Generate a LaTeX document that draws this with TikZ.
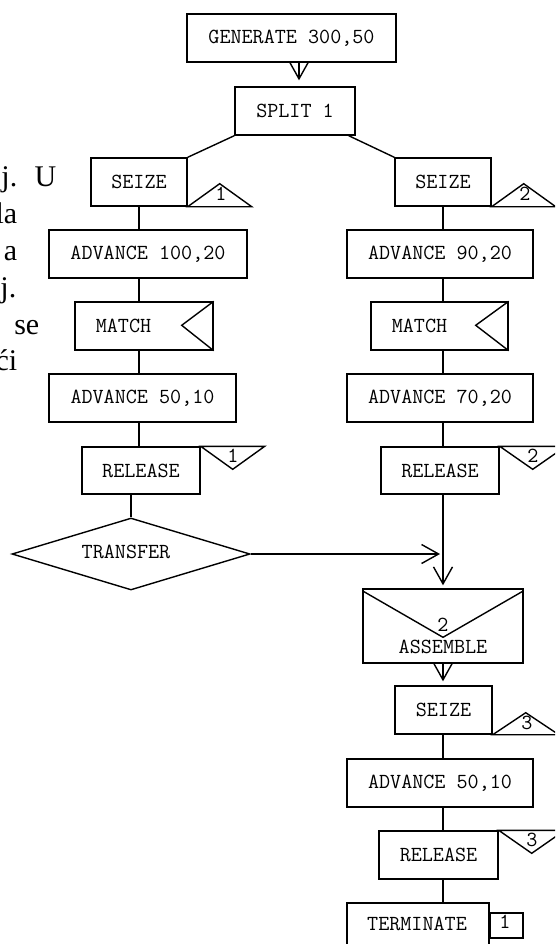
\documentclass[tikz,border=0pt]{standalone}
\usepackage{fontspec}
\setmainfont{Liberation Serif}
\usetikzlibrary{arrows.meta,shapes.geometric,calc}
\begin{document}
\begin{tikzpicture}[x=1pt,y=-1pt,line width=1.4pt,
  blk/.style={draw,rectangle,inner sep=0pt,font=\ttfamily\fontsize{21.5}{21.5}\selectfont},
  lbl/.style={inner sep=0pt,font=\ttfamily\fontsize{21.5}{21.5}\selectfont},
  frag/.style={inner sep=0pt,anchor=base east,font=\fontsize{30}{30}\selectfont},
  arr/.style={-{Straight Barb[length=17pt,width=19pt]}},
  tri/.style={line join=miter}]
\clip (0,0) rectangle (555,944);
\fill[white] (0,0) rectangle (555,944);

% text fragments at the left
\node[frag] (f1) at (18,186) {.j.};
\node[frag] (f2) at (57,186) {U};
\node[frag] (f3) at (18,223) {la};
\node[frag] (f4) at (18,260) {a};
\node[frag] (f5) at (17,297) {j.};
\node[frag] (f6) at (40,334) {se};
\node[frag] (f7) at (18,370) {ći};

\coordinate (colL) at (139,0);
\coordinate (colR) at (443,0);
\coordinate (a1) at (299,0);

% top
\node[blk,minimum width=209pt,minimum height=48pt] (gen) at (291.5,38) {GENERATE 300,50};
\node[blk,minimum width=120pt,minimum height=48pt] (split) at (295,111) {SPLIT 1};

% left branch
\node[blk,minimum width=96pt,minimum height=48pt] (seizeL) at (139,182) {SEIZE};
\node[blk,minimum width=198pt,minimum height=48pt] (advL1) at (148,254) {ADVANCE 100,20};
\node[blk,minimum width=138pt,minimum height=48pt] (matchL) at (144,326) {};
\node[lbl] (matchLt) at (123.5,326) {MATCH};
\node[blk,minimum width=187pt,minimum height=48pt] (advL2) at (142.5,398) {ADVANCE 50,10};
\node[blk,minimum width=118pt,minimum height=47pt] (relL) at (141,470.5) {RELEASE};
\node[draw,diamond,inner sep=0pt,minimum width=238pt,minimum height=72pt] (tr) at (131,554) {};
\node[lbl] (trt) at (126,552) {TRANSFER};

% right branch
\node[blk,minimum width=96pt,minimum height=48pt] (seizeR) at (443,182) {SEIZE};
\node[blk,minimum width=186pt,minimum height=48pt] (advR1) at (440,254) {ADVANCE 90,20};
\node[blk,minimum width=137pt,minimum height=48pt] (matchR) at (439.5,326) {};
\node[lbl] (matchRt) at (419.5,326) {MATCH};
\node[blk,minimum width=186pt,minimum height=48pt] (advR2) at (440,398) {ADVANCE 70,20};
\node[blk,minimum width=118pt,minimum height=47pt] (relR) at (440,470.5) {RELEASE};

% common tail
\node[blk,minimum width=160pt,minimum height=74pt] (asm) at (443,626) {};
\node[lbl] (asmn) at (443,625) {2};
\node[lbl] (asmt) at (443,647) {ASSEMBLE};
\node[blk,minimum width=97pt,minimum height=48pt] (seize3) at (443.5,710) {SEIZE};
\node[blk,minimum width=186pt,minimum height=48pt] (adv3) at (440,783) {ADVANCE 50,10};
\node[blk,minimum width=119pt,minimum height=48pt] (rel3) at (438.5,855) {RELEASE};
\node[blk,minimum width=142pt,minimum height=48pt] (term) at (418,927) {};
\node[lbl] (termt) at (417,924) {TERMINATE};
\node[blk,minimum width=33pt,minimum height=25pt] (termc) at (506.5,925.5) {};
\node[lbl] (termct) at (505,922) {1};

% connectors
\draw[arr,shorten >=6pt] (a1 |- gen.south) -- (a1 |- split.north);
\draw (split.south west) -- (seizeL.north east);
\draw ($(split.south east)+(-7,0)$) -- (seizeR.north west);
\draw (colL |- seizeL.south) -- (colL |- advL1.north);
\draw (colL |- advL1.south) -- (colL |- matchL.north);
\draw (colL |- matchL.south) -- (colL |- advL2.north);
\draw (colL |- advL2.south) -- (colL |- relL.north);
\draw (tr.north |- relL.south) -- (tr.north);
\draw (colR |- seizeR.south) -- (colR |- advR1.north);
\draw (colR |- advR1.south) -- (colR |- matchR.north);
\draw (colR |- matchR.south) -- (colR |- advR2.north);
\draw (colR |- advR2.south) -- (colR |- relR.north);
\draw[arr,shorten >=3pt] (colR |- relR.south) -- (colR |- asm.north);
\draw[arr,shorten >=3pt] (tr.east) -- (tr.east -| colR);
\draw[arr,shorten >=4pt] (colR |- asm.south) -- (colR |- seize3.north);
\draw (colR |- seize3.south) -- (colR |- adv3.north);
\draw (colR |- adv3.south) -- (colR |- rel3.north);
\draw (colR |- rel3.south) -- (colR |- term.north);

% block symbols
\draw[tri] (seizeL.south east) -- ++(64,0) -- ++(-32,-23) -- cycle;
\node[lbl] (sLn) at (221,194) {1};
\draw[tri] (seizeR.south east) -- ++(64,0) -- ++(-32,-23) -- cycle;
\node[lbl] (sRn) at (525,194) {2};
\draw[tri] (seize3.south east) -- ++(66,0) -- ++(-33,-22) -- cycle;
\node[lbl] (s3n) at (527,723) {3};
\draw[tri] (relL.north east) -- ++(64,0) -- ++(-32,23) -- cycle;
\node[lbl] (rLn) at (233,456) {1};
\draw[tri] (relR.north east) -- ++(66,0) -- ++(-33,23) -- cycle;
\node[lbl] (rRn) at (533,456) {2};
\draw[tri] (rel3.north east) -- ++(66,0) -- ++(-33,23) -- cycle;
\node[lbl] (r3n) at (532,840) {3};
\draw[tri] (matchL.north east) -- ++(-32,24) -- (matchL.south east);
\draw[tri] (matchR.north east) -- ++(-33,24) -- (matchR.south east);
\draw[tri] ($(asm.north west)+(1,3)$) -- ($(asm.north)+(0,49)$) -- ($(asm.north east)+(-1,3)$);
\end{tikzpicture}
\end{document}
